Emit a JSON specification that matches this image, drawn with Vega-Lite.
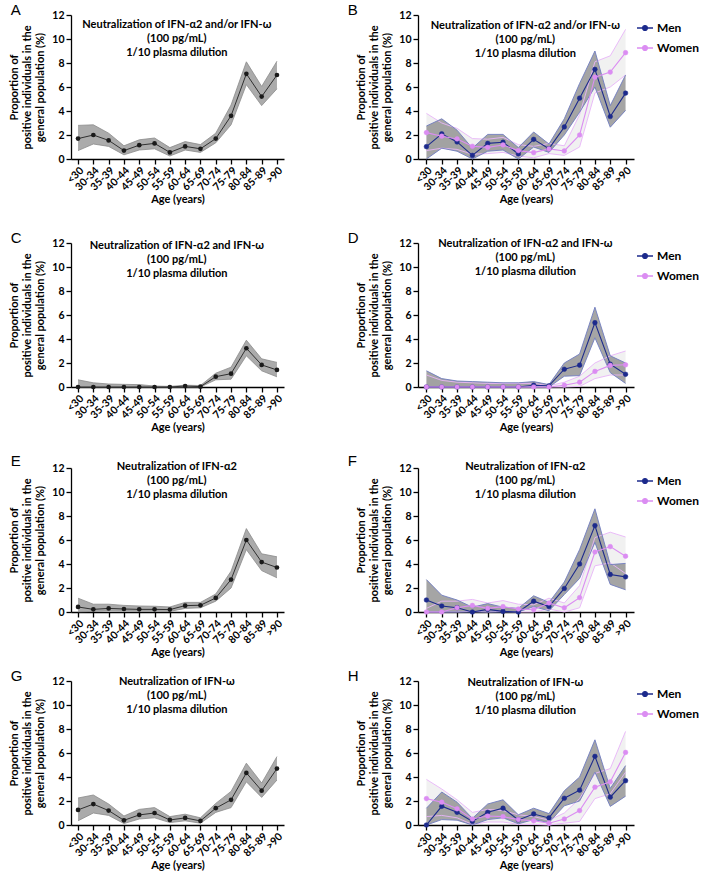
{
"$schema":"https://vega.github.io/schema/vega-lite/v6.json",
"padding":{"left":8,"top":3,"right":4,"bottom":0},
"datasets":{"d":[
{"pn":"A","sex":"All","age":"<30","p":1.7,"lo":0.7,"hi":2.8},
{"pn":"A","sex":"All","age":"30-34","p":2.0,"lo":1.25,"hi":2.85},
{"pn":"A","sex":"All","age":"35-39","p":1.55,"lo":1.05,"hi":2.15},
{"pn":"A","sex":"All","age":"40-44","p":0.7,"lo":0.35,"hi":1.1},
{"pn":"A","sex":"All","age":"45-49","p":1.15,"lo":0.75,"hi":1.6},
{"pn":"A","sex":"All","age":"50-54","p":1.3,"lo":0.85,"hi":1.75},
{"pn":"A","sex":"All","age":"55-59","p":0.55,"lo":0.25,"hi":0.95},
{"pn":"A","sex":"All","age":"60-64","p":1.05,"lo":0.75,"hi":1.45},
{"pn":"A","sex":"All","age":"65-69","p":0.85,"lo":0.55,"hi":1.2},
{"pn":"A","sex":"All","age":"70-74","p":1.7,"lo":1.35,"hi":2.15},
{"pn":"A","sex":"All","age":"75-79","p":3.6,"lo":2.85,"hi":4.5},
{"pn":"A","sex":"All","age":"80-84","p":7.1,"lo":6.2,"hi":8.1},
{"pn":"A","sex":"All","age":"85-89","p":5.2,"lo":4.45,"hi":6.05},
{"pn":"A","sex":"All","age":">90","p":7.0,"lo":5.85,"hi":8.15},
{"pn":"B","sex":"Men","age":"<30","p":1.03,"lo":0,"hi":2.75},
{"pn":"B","sex":"Men","age":"30-34","p":2.1,"lo":0.9,"hi":3.35},
{"pn":"B","sex":"Men","age":"35-39","p":1.42,"lo":0.65,"hi":2.4},
{"pn":"B","sex":"Men","age":"40-44","p":0.3,"lo":0,"hi":0.9},
{"pn":"B","sex":"Men","age":"45-49","p":1.3,"lo":0.65,"hi":2.05},
{"pn":"B","sex":"Men","age":"50-54","p":1.4,"lo":0.75,"hi":2.05},
{"pn":"B","sex":"Men","age":"55-59","p":0.42,"lo":0,"hi":0.95},
{"pn":"B","sex":"Men","age":"60-64","p":1.64,"lo":1.0,"hi":2.25},
{"pn":"B","sex":"Men","age":"65-69","p":0.86,"lo":0.55,"hi":1.25},
{"pn":"B","sex":"Men","age":"70-74","p":2.67,"lo":2.0,"hi":3.35},
{"pn":"B","sex":"Men","age":"75-79","p":5.07,"lo":3.9,"hi":6.3},
{"pn":"B","sex":"Men","age":"80-84","p":7.47,"lo":6.0,"hi":9.0},
{"pn":"B","sex":"Men","age":"85-89","p":3.54,"lo":2.65,"hi":4.45},
{"pn":"B","sex":"Men","age":">90","p":5.49,"lo":4.05,"hi":7.0},
{"pn":"B","sex":"Women","age":"<30","p":2.2,"lo":0.7,"hi":3.8},
{"pn":"B","sex":"Women","age":"30-34","p":1.9,"lo":0.9,"hi":3.0},
{"pn":"B","sex":"Women","age":"35-39","p":1.67,"lo":0.8,"hi":2.55},
{"pn":"B","sex":"Women","age":"40-44","p":1.06,"lo":0.4,"hi":1.7},
{"pn":"B","sex":"Women","age":"45-49","p":0.97,"lo":0.45,"hi":1.65},
{"pn":"B","sex":"Women","age":"50-54","p":1.17,"lo":0.55,"hi":1.8},
{"pn":"B","sex":"Women","age":"55-59","p":0.7,"lo":0.25,"hi":1.2},
{"pn":"B","sex":"Women","age":"60-64","p":0.53,"lo":0.1,"hi":1.05},
{"pn":"B","sex":"Women","age":"65-69","p":0.84,"lo":0.45,"hi":1.3},
{"pn":"B","sex":"Women","age":"70-74","p":0.67,"lo":0.3,"hi":1.1},
{"pn":"B","sex":"Women","age":"75-79","p":2.0,"lo":1.0,"hi":3.7},
{"pn":"B","sex":"Women","age":"80-84","p":6.82,"lo":5.5,"hi":8.1},
{"pn":"B","sex":"Women","age":"85-89","p":7.24,"lo":6.0,"hi":8.6},
{"pn":"B","sex":"Women","age":">90","p":8.86,"lo":7.0,"hi":10.8},
{"pn":"C","sex":"All","age":"<30","p":0,"lo":0,"hi":0.6},
{"pn":"C","sex":"All","age":"30-34","p":0,"lo":0,"hi":0.35},
{"pn":"C","sex":"All","age":"35-39","p":0,"lo":0,"hi":0.25},
{"pn":"C","sex":"All","age":"40-44","p":0,"lo":0,"hi":0.22},
{"pn":"C","sex":"All","age":"45-49","p":0,"lo":0,"hi":0.2},
{"pn":"C","sex":"All","age":"50-54","p":0,"lo":0,"hi":0.08},
{"pn":"C","sex":"All","age":"55-59","p":0,"lo":0,"hi":0.05},
{"pn":"C","sex":"All","age":"60-64","p":0.08,"lo":0,"hi":0.15},
{"pn":"C","sex":"All","age":"65-69","p":0.03,"lo":0,"hi":0.12},
{"pn":"C","sex":"All","age":"70-74","p":0.86,"lo":0.6,"hi":1.15},
{"pn":"C","sex":"All","age":"75-79","p":1.11,"lo":0.65,"hi":1.65},
{"pn":"C","sex":"All","age":"80-84","p":3.23,"lo":2.6,"hi":3.9},
{"pn":"C","sex":"All","age":"85-89","p":1.84,"lo":1.35,"hi":2.35},
{"pn":"C","sex":"All","age":">90","p":1.42,"lo":0.85,"hi":2.05},
{"pn":"D","sex":"Men","age":"<30","p":0,"lo":0,"hi":1.35},
{"pn":"D","sex":"Men","age":"30-34","p":0,"lo":0,"hi":0.7},
{"pn":"D","sex":"Men","age":"35-39","p":0,"lo":0,"hi":0.5},
{"pn":"D","sex":"Men","age":"40-44","p":0,"lo":0,"hi":0.45},
{"pn":"D","sex":"Men","age":"45-49","p":0,"lo":0,"hi":0.4},
{"pn":"D","sex":"Men","age":"50-54","p":0,"lo":0,"hi":0.35},
{"pn":"D","sex":"Men","age":"55-59","p":0,"lo":0,"hi":0.35},
{"pn":"D","sex":"Men","age":"60-64","p":0.15,"lo":0,"hi":0.45},
{"pn":"D","sex":"Men","age":"65-69","p":0.1,"lo":0,"hi":0.2},
{"pn":"D","sex":"Men","age":"70-74","p":1.48,"lo":0.9,"hi":2.0},
{"pn":"D","sex":"Men","age":"75-79","p":1.82,"lo":0.95,"hi":2.75},
{"pn":"D","sex":"Men","age":"80-84","p":5.36,"lo":4.1,"hi":6.65},
{"pn":"D","sex":"Men","age":"85-89","p":1.9,"lo":1.2,"hi":2.6},
{"pn":"D","sex":"Men","age":">90","p":1.06,"lo":0.3,"hi":2.0},
{"pn":"D","sex":"Women","age":"<30","p":0,"lo":0,"hi":1.0},
{"pn":"D","sex":"Women","age":"30-34","p":0,"lo":0,"hi":0.55},
{"pn":"D","sex":"Women","age":"35-39","p":0,"lo":0,"hi":0.4},
{"pn":"D","sex":"Women","age":"40-44","p":0,"lo":0,"hi":0.35},
{"pn":"D","sex":"Women","age":"45-49","p":0,"lo":0,"hi":0.3},
{"pn":"D","sex":"Women","age":"50-54","p":0,"lo":0,"hi":0.3},
{"pn":"D","sex":"Women","age":"55-59","p":0,"lo":0,"hi":0.3},
{"pn":"D","sex":"Women","age":"60-64","p":0,"lo":0,"hi":0.3},
{"pn":"D","sex":"Women","age":"65-69","p":0,"lo":0,"hi":0.1},
{"pn":"D","sex":"Women","age":"70-74","p":0.15,"lo":0,"hi":0.4},
{"pn":"D","sex":"Women","age":"75-79","p":0.4,"lo":0.05,"hi":0.9},
{"pn":"D","sex":"Women","age":"80-84","p":1.3,"lo":0.7,"hi":2.0},
{"pn":"D","sex":"Women","age":"85-89","p":1.8,"lo":1.0,"hi":2.6},
{"pn":"D","sex":"Women","age":">90","p":1.85,"lo":1.0,"hi":3.0},
{"pn":"E","sex":"All","age":"<30","p":0.42,"lo":0.02,"hi":1.15},
{"pn":"E","sex":"All","age":"30-34","p":0.22,"lo":0.05,"hi":0.65},
{"pn":"E","sex":"All","age":"35-39","p":0.3,"lo":0.1,"hi":0.65},
{"pn":"E","sex":"All","age":"40-44","p":0.25,"lo":0.08,"hi":0.55},
{"pn":"E","sex":"All","age":"45-49","p":0.22,"lo":0.07,"hi":0.5},
{"pn":"E","sex":"All","age":"50-54","p":0.22,"lo":0.07,"hi":0.48},
{"pn":"E","sex":"All","age":"55-59","p":0.2,"lo":0.05,"hi":0.42},
{"pn":"E","sex":"All","age":"60-64","p":0.53,"lo":0.3,"hi":0.8},
{"pn":"E","sex":"All","age":"65-69","p":0.56,"lo":0.35,"hi":0.8},
{"pn":"E","sex":"All","age":"70-74","p":1.17,"lo":0.9,"hi":1.5},
{"pn":"E","sex":"All","age":"75-79","p":2.7,"lo":2.0,"hi":3.4},
{"pn":"E","sex":"All","age":"80-84","p":6.0,"lo":5.2,"hi":6.95},
{"pn":"E","sex":"All","age":"85-89","p":4.16,"lo":3.45,"hi":4.85},
{"pn":"E","sex":"All","age":">90","p":3.71,"lo":2.85,"hi":4.6},
{"pn":"F","sex":"Men","age":"<30","p":1.0,"lo":0,"hi":2.7},
{"pn":"F","sex":"Men","age":"30-34","p":0.5,"lo":0,"hi":1.4},
{"pn":"F","sex":"Men","age":"35-39","p":0.36,"lo":0,"hi":1.0},
{"pn":"F","sex":"Men","age":"40-44","p":0,"lo":0,"hi":0.4},
{"pn":"F","sex":"Men","age":"45-49","p":0.22,"lo":0,"hi":0.7},
{"pn":"F","sex":"Men","age":"50-54","p":0.05,"lo":0,"hi":0.4},
{"pn":"F","sex":"Men","age":"55-59","p":0,"lo":0,"hi":0.3},
{"pn":"F","sex":"Men","age":"60-64","p":0.9,"lo":0.45,"hi":1.35},
{"pn":"F","sex":"Men","age":"65-69","p":0.45,"lo":0.1,"hi":0.8},
{"pn":"F","sex":"Men","age":"70-74","p":1.96,"lo":1.45,"hi":2.5},
{"pn":"F","sex":"Men","age":"75-79","p":4.0,"lo":2.8,"hi":5.2},
{"pn":"F","sex":"Men","age":"80-84","p":7.2,"lo":5.8,"hi":8.6},
{"pn":"F","sex":"Men","age":"85-89","p":3.13,"lo":2.3,"hi":3.95},
{"pn":"F","sex":"Men","age":">90","p":2.93,"lo":1.85,"hi":4.05},
{"pn":"F","sex":"Women","age":"<30","p":0,"lo":0,"hi":0.3},
{"pn":"F","sex":"Women","age":"30-34","p":0,"lo":0,"hi":0.9},
{"pn":"F","sex":"Women","age":"35-39","p":0.35,"lo":0,"hi":0.9},
{"pn":"F","sex":"Women","age":"40-44","p":0.55,"lo":0.05,"hi":1.05},
{"pn":"F","sex":"Women","age":"45-49","p":0.3,"lo":0,"hi":0.75},
{"pn":"F","sex":"Women","age":"50-54","p":0.45,"lo":0.05,"hi":0.95},
{"pn":"F","sex":"Women","age":"55-59","p":0.25,"lo":0,"hi":0.65},
{"pn":"F","sex":"Women","age":"60-64","p":0.2,"lo":0,"hi":0.6},
{"pn":"F","sex":"Women","age":"65-69","p":0.75,"lo":0.25,"hi":1.15},
{"pn":"F","sex":"Women","age":"70-74","p":0.35,"lo":0,"hi":0.75},
{"pn":"F","sex":"Women","age":"75-79","p":1.2,"lo":0.35,"hi":2.2},
{"pn":"F","sex":"Women","age":"80-84","p":5.0,"lo":3.85,"hi":6.2},
{"pn":"F","sex":"Women","age":"85-89","p":5.45,"lo":4.1,"hi":6.65},
{"pn":"F","sex":"Women","age":">90","p":4.65,"lo":3.2,"hi":6.25},
{"pn":"G","sex":"All","age":"<30","p":1.26,"lo":0.35,"hi":2.25},
{"pn":"G","sex":"All","age":"30-34","p":1.74,"lo":1.0,"hi":2.5},
{"pn":"G","sex":"All","age":"35-39","p":1.2,"lo":0.8,"hi":1.75},
{"pn":"G","sex":"All","age":"40-44","p":0.39,"lo":0.12,"hi":0.75},
{"pn":"G","sex":"All","age":"45-49","p":0.84,"lo":0.5,"hi":1.3},
{"pn":"G","sex":"All","age":"50-54","p":1.0,"lo":0.6,"hi":1.45},
{"pn":"G","sex":"All","age":"55-59","p":0.42,"lo":0.2,"hi":0.7},
{"pn":"G","sex":"All","age":"60-64","p":0.59,"lo":0.35,"hi":0.9},
{"pn":"G","sex":"All","age":"65-69","p":0.34,"lo":0.15,"hi":0.6},
{"pn":"G","sex":"All","age":"70-74","p":1.4,"lo":1.05,"hi":1.8},
{"pn":"G","sex":"All","age":"75-79","p":2.1,"lo":1.45,"hi":2.8},
{"pn":"G","sex":"All","age":"80-84","p":4.34,"lo":3.6,"hi":5.15},
{"pn":"G","sex":"All","age":"85-89","p":2.86,"lo":2.3,"hi":3.5},
{"pn":"G","sex":"All","age":">90","p":4.7,"lo":3.75,"hi":5.7},
{"pn":"H","sex":"Men","age":"<30","p":0,"lo":0,"hi":1.4},
{"pn":"H","sex":"Men","age":"30-34","p":1.56,"lo":0.45,"hi":2.75},
{"pn":"H","sex":"Men","age":"35-39","p":1.06,"lo":0.4,"hi":1.9},
{"pn":"H","sex":"Men","age":"40-44","p":0.3,"lo":0,"hi":0.55},
{"pn":"H","sex":"Men","age":"45-49","p":1.06,"lo":0.45,"hi":1.75},
{"pn":"H","sex":"Men","age":"50-54","p":1.4,"lo":0.6,"hi":2.1},
{"pn":"H","sex":"Men","age":"55-59","p":0.42,"lo":0.1,"hi":0.85},
{"pn":"H","sex":"Men","age":"60-64","p":0.92,"lo":0.45,"hi":1.4},
{"pn":"H","sex":"Men","age":"65-69","p":0.59,"lo":0.2,"hi":0.95},
{"pn":"H","sex":"Men","age":"70-74","p":2.23,"lo":1.6,"hi":2.85},
{"pn":"H","sex":"Men","age":"75-79","p":2.9,"lo":2.0,"hi":4.0},
{"pn":"H","sex":"Men","age":"80-84","p":5.72,"lo":4.4,"hi":7.1},
{"pn":"H","sex":"Men","age":"85-89","p":2.32,"lo":1.55,"hi":3.05},
{"pn":"H","sex":"Men","age":">90","p":3.69,"lo":2.4,"hi":4.95},
{"pn":"H","sex":"Women","age":"<30","p":2.2,"lo":0.7,"hi":3.8},
{"pn":"H","sex":"Women","age":"30-34","p":1.9,"lo":0.8,"hi":3.0},
{"pn":"H","sex":"Women","age":"35-39","p":1.35,"lo":0.6,"hi":2.1},
{"pn":"H","sex":"Women","age":"40-44","p":0.5,"lo":0.05,"hi":1.05},
{"pn":"H","sex":"Women","age":"45-49","p":0.75,"lo":0.25,"hi":1.3},
{"pn":"H","sex":"Women","age":"50-54","p":0.7,"lo":0.25,"hi":1.2},
{"pn":"H","sex":"Women","age":"55-59","p":0.45,"lo":0.05,"hi":0.85},
{"pn":"H","sex":"Women","age":"60-64","p":0.35,"lo":0.05,"hi":0.7},
{"pn":"H","sex":"Women","age":"65-69","p":0.15,"lo":0,"hi":0.4},
{"pn":"H","sex":"Women","age":"70-74","p":0.5,"lo":0.15,"hi":1.0},
{"pn":"H","sex":"Women","age":"75-79","p":1.2,"lo":0.3,"hi":2.2},
{"pn":"H","sex":"Women","age":"80-84","p":3.15,"lo":2.2,"hi":4.3},
{"pn":"H","sex":"Women","age":"85-89","p":3.6,"lo":2.6,"hi":4.7},
{"pn":"H","sex":"Women","age":">90","p":6.05,"lo":4.4,"hi":7.8}
]},
"data":{"name":"d"},
"spacing":25,
"resolve":{"scale":{"stroke":"independent","fill":"independent"},"legend":{"stroke":"independent","fill":"independent"}},
"vconcat":[
{"hconcat":[
{"width":213,"height":144,"title":{"text":"A"},"layer":[
{"transform":[{"filter":"datum.pn==='A'"}],"mark":{"type":"area","color":"#ababab","opacity":1},"encoding":{"x":{"field":"age","type":"ordinal","title":"Age (years)","scale":{"type":"point","padding":0.46,"domain":["<30","30-34","35-39","40-44","45-49","50-54","55-59","60-64","65-69","70-74","75-79","80-84","85-89",">90"]}},"y":{"field":"lo","type":"quantitative","scale":{"domain":[0,12],"nice":false},"title":["Proportion of","positive individuals in the","general population  (%)"]},"y2":{"field":"hi"}}},
{"transform":[{"filter":"datum.pn==='A'"},{"fold":["lo","hi"],"as":["bnd","bv"]}],"mark":{"type":"line","color":"#8a8a8a","strokeWidth":0.8},"encoding":{"x":{"field":"age","type":"ordinal","title":"Age (years)"},"y":{"field":"bv","type":"quantitative","title":["Proportion of","positive individuals in the","general population  (%)"]},"detail":{"field":"bnd","type":"nominal"}}},
{"transform":[{"filter":"datum.pn==='A'"}],"mark":{"type":"line","color":"#303030","strokeWidth":1},"encoding":{"x":{"field":"age","type":"ordinal","title":"Age (years)"},"y":{"field":"p","type":"quantitative","title":["Proportion of","positive individuals in the","general population  (%)"]}}},
{"transform":[{"filter":"datum.pn==='A'"}],"mark":{"type":"point","filled":true,"color":"#1a1a1a","size":22,"opacity":1},"encoding":{"x":{"field":"age","type":"ordinal","title":"Age (years)"},"y":{"field":"p","type":"quantitative","title":["Proportion of","positive individuals in the","general population  (%)"]}}},
{"data":{"values":[{}]},"mark":{"type":"text","text":["Neutralization of IFN-α2 and/or IFN-ω","(100 pg/mL)","1/10 plasma dilution"],"fontWeight":"bold","fontSize":11,"lineHeight":14,"baseline":"middle","color":"black","dx":7},"encoding":{"x":{"datum":"55-59","type":"ordinal","title":"Age (years)"},"y":{"datum":11.2,"type":"quantitative","title":["Proportion of","positive individuals in the","general population  (%)"]}}}
]},
{"width":216,"height":144,"title":{"text":"B","dx":-8},"layer":[
{"transform":[{"filter":"datum.pn==='B' && datum.sex==='Women'"}],"mark":{"type":"area","color":"#efefef","opacity":0.9},"encoding":{"x":{"field":"age","type":"ordinal","title":"Age (years)","scale":{"type":"point","padding":0.55,"domain":["<30","30-34","35-39","40-44","45-49","50-54","55-59","60-64","65-69","70-74","75-79","80-84","85-89",">90"]}},"y":{"field":"lo","type":"quantitative","scale":{"domain":[0,12],"nice":false},"title":["Proportion of","positive individuals in the","general population  (%)"]},"y2":{"field":"hi"}}},
{"transform":[{"filter":"datum.pn==='B' && datum.sex==='Men'"}],"mark":{"type":"area","color":"#8f8f8f","opacity":0.8},"encoding":{"x":{"field":"age","type":"ordinal","title":"Age (years)"},"y":{"field":"lo","type":"quantitative","title":["Proportion of","positive individuals in the","general population  (%)"]},"y2":{"field":"hi"}}},
{"transform":[{"filter":"datum.pn==='B' && datum.sex==='Women'"},{"fold":["lo","hi"],"as":["bnd","bv"]}],"mark":{"type":"line","color":"#e8b4f8","strokeWidth":0.9},"encoding":{"x":{"field":"age","type":"ordinal","title":"Age (years)"},"y":{"field":"bv","type":"quantitative","title":["Proportion of","positive individuals in the","general population  (%)"]},"detail":{"field":"bnd","type":"nominal"}}},
{"transform":[{"filter":"datum.pn==='B' && datum.sex==='Men'"},{"fold":["lo","hi"],"as":["bnd","bv"]}],"mark":{"type":"line","color":"#6f7cc0","strokeWidth":0.9},"encoding":{"x":{"field":"age","type":"ordinal","title":"Age (years)"},"y":{"field":"bv","type":"quantitative","title":["Proportion of","positive individuals in the","general population  (%)"]},"detail":{"field":"bnd","type":"nominal"}}},
{"transform":[{"filter":"datum.pn==='B'"}],"mark":{"type":"line","strokeWidth":1.1},"encoding":{"x":{"field":"age","type":"ordinal","title":"Age (years)"},"y":{"field":"p","type":"quantitative","title":["Proportion of","positive individuals in the","general population  (%)"]},"stroke":{"field":"sex","type":"nominal","scale":{"domain":["Women","Men"],"range":["#db8df2","#1c2a8c"]},"legend":{"title":null,"orient":"right","offset":-2,"padding":4,"symbolType":"M-1,0L1,0M-0.3,0A0.3,0.3,0,1,1,0.3,0A0.3,0.3,0,1,1,-0.3,0Z","symbolSize":256,"symbolStrokeWidth":1.3,"labelFontSize":12,"labelFontWeight":"bold","labelColor":"black","rowPadding":5,"labelOffset":3,"values":["Men","Women"]}}}},
{"transform":[{"filter":"datum.pn==='B'"}],"mark":{"type":"point","filled":true,"size":22,"opacity":1,"strokeWidth":0.5},"encoding":{"x":{"field":"age","type":"ordinal","title":"Age (years)"},"y":{"field":"p","type":"quantitative","title":["Proportion of","positive individuals in the","general population  (%)"]},"stroke":{"field":"sex","type":"nominal","scale":{"domain":["Women","Men"],"range":["#db8df2","#1c2a8c"]},"legend":{"title":null,"orient":"right","offset":-2,"padding":4,"symbolType":"M-1,0L1,0M-0.3,0A0.3,0.3,0,1,1,0.3,0A0.3,0.3,0,1,1,-0.3,0Z","symbolSize":256,"symbolStrokeWidth":1.3,"labelFontSize":12,"labelFontWeight":"bold","labelColor":"black","rowPadding":5,"labelOffset":3,"values":["Men","Women"]}},"fill":{"field":"sex","type":"nominal","scale":{"domain":["Women","Men"],"range":["#db8df2","#1c2a8c"]},"legend":{"title":null,"orient":"right","offset":-2,"padding":4,"symbolType":"M-1,0L1,0M-0.3,0A0.3,0.3,0,1,1,0.3,0A0.3,0.3,0,1,1,-0.3,0Z","symbolSize":256,"symbolStrokeWidth":1.3,"labelFontSize":12,"labelFontWeight":"bold","labelColor":"black","rowPadding":5,"labelOffset":3,"values":["Men","Women"]}}}},
{"data":{"values":[{}]},"mark":{"type":"text","text":["Neutralization of IFN-α2 and/or IFN-ω","(100 pg/mL)","1/10 plasma dilution"],"fontWeight":"bold","fontSize":11,"lineHeight":14,"baseline":"middle","color":"black","dx":7},"encoding":{"x":{"datum":"55-59","type":"ordinal","title":"Age (years)"},"y":{"datum":11.1,"type":"quantitative","title":["Proportion of","positive individuals in the","general population  (%)"]}}}
]}
],"spacing":62,"resolve":{"scale":{"stroke":"independent","fill":"independent"},"legend":{"stroke":"independent","fill":"independent"}}},
{"spacing":20,"resolve":{"scale":{"stroke":"independent","fill":"independent"},"legend":{"stroke":"independent","fill":"independent"}},"vconcat":[
{"hconcat":[
{"width":213,"height":144,"title":{"text":"C"},"layer":[
{"transform":[{"filter":"datum.pn==='C'"}],"mark":{"type":"area","color":"#ababab","opacity":1},"encoding":{"x":{"field":"age","type":"ordinal","title":"Age (years)","scale":{"type":"point","padding":0.46,"domain":["<30","30-34","35-39","40-44","45-49","50-54","55-59","60-64","65-69","70-74","75-79","80-84","85-89",">90"]}},"y":{"field":"lo","type":"quantitative","scale":{"domain":[0,12],"nice":false},"title":["Proportion of","positive individuals in the","general population  (%)"]},"y2":{"field":"hi"}}},
{"transform":[{"filter":"datum.pn==='C'"},{"fold":["lo","hi"],"as":["bnd","bv"]}],"mark":{"type":"line","color":"#8a8a8a","strokeWidth":0.8},"encoding":{"x":{"field":"age","type":"ordinal","title":"Age (years)"},"y":{"field":"bv","type":"quantitative","title":["Proportion of","positive individuals in the","general population  (%)"]},"detail":{"field":"bnd","type":"nominal"}}},
{"transform":[{"filter":"datum.pn==='C'"}],"mark":{"type":"line","color":"#303030","strokeWidth":1},"encoding":{"x":{"field":"age","type":"ordinal","title":"Age (years)"},"y":{"field":"p","type":"quantitative","title":["Proportion of","positive individuals in the","general population  (%)"]}}},
{"transform":[{"filter":"datum.pn==='C'"}],"mark":{"type":"point","filled":true,"color":"#1a1a1a","size":22,"opacity":1},"encoding":{"x":{"field":"age","type":"ordinal","title":"Age (years)"},"y":{"field":"p","type":"quantitative","title":["Proportion of","positive individuals in the","general population  (%)"]}}},
{"data":{"values":[{}]},"mark":{"type":"text","text":["Neutralization of IFN-α2 and IFN-ω","(100 pg/mL)","1/10 plasma dilution"],"fontWeight":"bold","fontSize":11,"lineHeight":14,"baseline":"middle","color":"black","dx":7},"encoding":{"x":{"datum":"55-59","type":"ordinal","title":"Age (years)"},"y":{"datum":11.75,"type":"quantitative","title":["Proportion of","positive individuals in the","general population  (%)"]}}}
]},
{"width":216,"height":144,"title":{"text":"D","dx":-8},"layer":[
{"transform":[{"filter":"datum.pn==='D' && datum.sex==='Women'"}],"mark":{"type":"area","color":"#efefef","opacity":0.9},"encoding":{"x":{"field":"age","type":"ordinal","title":"Age (years)","scale":{"type":"point","padding":0.55,"domain":["<30","30-34","35-39","40-44","45-49","50-54","55-59","60-64","65-69","70-74","75-79","80-84","85-89",">90"]}},"y":{"field":"lo","type":"quantitative","scale":{"domain":[0,12],"nice":false},"title":["Proportion of","positive individuals in the","general population  (%)"]},"y2":{"field":"hi"}}},
{"transform":[{"filter":"datum.pn==='D' && datum.sex==='Men'"}],"mark":{"type":"area","color":"#8f8f8f","opacity":0.8},"encoding":{"x":{"field":"age","type":"ordinal","title":"Age (years)"},"y":{"field":"lo","type":"quantitative","title":["Proportion of","positive individuals in the","general population  (%)"]},"y2":{"field":"hi"}}},
{"transform":[{"filter":"datum.pn==='D' && datum.sex==='Women'"},{"fold":["lo","hi"],"as":["bnd","bv"]}],"mark":{"type":"line","color":"#e8b4f8","strokeWidth":0.9},"encoding":{"x":{"field":"age","type":"ordinal","title":"Age (years)"},"y":{"field":"bv","type":"quantitative","title":["Proportion of","positive individuals in the","general population  (%)"]},"detail":{"field":"bnd","type":"nominal"}}},
{"transform":[{"filter":"datum.pn==='D' && datum.sex==='Men'"},{"fold":["lo","hi"],"as":["bnd","bv"]}],"mark":{"type":"line","color":"#6f7cc0","strokeWidth":0.9},"encoding":{"x":{"field":"age","type":"ordinal","title":"Age (years)"},"y":{"field":"bv","type":"quantitative","title":["Proportion of","positive individuals in the","general population  (%)"]},"detail":{"field":"bnd","type":"nominal"}}},
{"transform":[{"filter":"datum.pn==='D'"}],"mark":{"type":"line","strokeWidth":1.1},"encoding":{"x":{"field":"age","type":"ordinal","title":"Age (years)"},"y":{"field":"p","type":"quantitative","title":["Proportion of","positive individuals in the","general population  (%)"]},"stroke":{"field":"sex","type":"nominal","scale":{"domain":["Women","Men"],"range":["#db8df2","#1c2a8c"]},"legend":{"title":null,"orient":"right","offset":-2,"padding":4,"symbolType":"M-1,0L1,0M-0.3,0A0.3,0.3,0,1,1,0.3,0A0.3,0.3,0,1,1,-0.3,0Z","symbolSize":256,"symbolStrokeWidth":1.3,"labelFontSize":12,"labelFontWeight":"bold","labelColor":"black","rowPadding":5,"labelOffset":3,"values":["Men","Women"]}}}},
{"transform":[{"filter":"datum.pn==='D'"}],"mark":{"type":"point","filled":true,"size":22,"opacity":1,"strokeWidth":0.5},"encoding":{"x":{"field":"age","type":"ordinal","title":"Age (years)"},"y":{"field":"p","type":"quantitative","title":["Proportion of","positive individuals in the","general population  (%)"]},"stroke":{"field":"sex","type":"nominal","scale":{"domain":["Women","Men"],"range":["#db8df2","#1c2a8c"]},"legend":{"title":null,"orient":"right","offset":-2,"padding":4,"symbolType":"M-1,0L1,0M-0.3,0A0.3,0.3,0,1,1,0.3,0A0.3,0.3,0,1,1,-0.3,0Z","symbolSize":256,"symbolStrokeWidth":1.3,"labelFontSize":12,"labelFontWeight":"bold","labelColor":"black","rowPadding":5,"labelOffset":3,"values":["Men","Women"]}},"fill":{"field":"sex","type":"nominal","scale":{"domain":["Women","Men"],"range":["#db8df2","#1c2a8c"]},"legend":{"title":null,"orient":"right","offset":-2,"padding":4,"symbolType":"M-1,0L1,0M-0.3,0A0.3,0.3,0,1,1,0.3,0A0.3,0.3,0,1,1,-0.3,0Z","symbolSize":256,"symbolStrokeWidth":1.3,"labelFontSize":12,"labelFontWeight":"bold","labelColor":"black","rowPadding":5,"labelOffset":3,"values":["Men","Women"]}}}},
{"data":{"values":[{}]},"mark":{"type":"text","text":["Neutralization of IFN-α2 and IFN-ω","(100 pg/mL)","1/10 plasma dilution"],"fontWeight":"bold","fontSize":11,"lineHeight":14,"baseline":"middle","color":"black","dx":7},"encoding":{"x":{"datum":"55-59","type":"ordinal","title":"Age (years)"},"y":{"datum":11.95,"type":"quantitative","title":["Proportion of","positive individuals in the","general population  (%)"]}}}
]}
],"spacing":62,"resolve":{"scale":{"stroke":"independent","fill":"independent"},"legend":{"stroke":"independent","fill":"independent"}}},
{"spacing":10,"resolve":{"scale":{"stroke":"independent","fill":"independent"},"legend":{"stroke":"independent","fill":"independent"}},"vconcat":[
{"hconcat":[
{"width":213,"height":144,"title":{"text":"E"},"layer":[
{"transform":[{"filter":"datum.pn==='E'"}],"mark":{"type":"area","color":"#ababab","opacity":1},"encoding":{"x":{"field":"age","type":"ordinal","title":"Age (years)","scale":{"type":"point","padding":0.46,"domain":["<30","30-34","35-39","40-44","45-49","50-54","55-59","60-64","65-69","70-74","75-79","80-84","85-89",">90"]}},"y":{"field":"lo","type":"quantitative","scale":{"domain":[0,12],"nice":false},"title":["Proportion of","positive individuals in the","general population  (%)"]},"y2":{"field":"hi"}}},
{"transform":[{"filter":"datum.pn==='E'"},{"fold":["lo","hi"],"as":["bnd","bv"]}],"mark":{"type":"line","color":"#8a8a8a","strokeWidth":0.8},"encoding":{"x":{"field":"age","type":"ordinal","title":"Age (years)"},"y":{"field":"bv","type":"quantitative","title":["Proportion of","positive individuals in the","general population  (%)"]},"detail":{"field":"bnd","type":"nominal"}}},
{"transform":[{"filter":"datum.pn==='E'"}],"mark":{"type":"line","color":"#303030","strokeWidth":1},"encoding":{"x":{"field":"age","type":"ordinal","title":"Age (years)"},"y":{"field":"p","type":"quantitative","title":["Proportion of","positive individuals in the","general population  (%)"]}}},
{"transform":[{"filter":"datum.pn==='E'"}],"mark":{"type":"point","filled":true,"color":"#1a1a1a","size":22,"opacity":1},"encoding":{"x":{"field":"age","type":"ordinal","title":"Age (years)"},"y":{"field":"p","type":"quantitative","title":["Proportion of","positive individuals in the","general population  (%)"]}}},
{"data":{"values":[{}]},"mark":{"type":"text","text":["Neutralization of IFN-α2","(100 pg/mL)","1/10 plasma dilution"],"fontWeight":"bold","fontSize":11,"lineHeight":14,"baseline":"middle","color":"black","dx":7},"encoding":{"x":{"datum":"55-59","type":"ordinal","title":"Age (years)"},"y":{"datum":12.1,"type":"quantitative","title":["Proportion of","positive individuals in the","general population  (%)"]}}}
]},
{"width":216,"height":144,"title":{"text":"F","dx":-8},"layer":[
{"transform":[{"filter":"datum.pn==='F' && datum.sex==='Women'"}],"mark":{"type":"area","color":"#efefef","opacity":0.9},"encoding":{"x":{"field":"age","type":"ordinal","title":"Age (years)","scale":{"type":"point","padding":0.55,"domain":["<30","30-34","35-39","40-44","45-49","50-54","55-59","60-64","65-69","70-74","75-79","80-84","85-89",">90"]}},"y":{"field":"lo","type":"quantitative","scale":{"domain":[0,12],"nice":false},"title":["Proportion of","positive individuals in the","general population  (%)"]},"y2":{"field":"hi"}}},
{"transform":[{"filter":"datum.pn==='F' && datum.sex==='Men'"}],"mark":{"type":"area","color":"#8f8f8f","opacity":0.8},"encoding":{"x":{"field":"age","type":"ordinal","title":"Age (years)"},"y":{"field":"lo","type":"quantitative","title":["Proportion of","positive individuals in the","general population  (%)"]},"y2":{"field":"hi"}}},
{"transform":[{"filter":"datum.pn==='F' && datum.sex==='Women'"},{"fold":["lo","hi"],"as":["bnd","bv"]}],"mark":{"type":"line","color":"#e8b4f8","strokeWidth":0.9},"encoding":{"x":{"field":"age","type":"ordinal","title":"Age (years)"},"y":{"field":"bv","type":"quantitative","title":["Proportion of","positive individuals in the","general population  (%)"]},"detail":{"field":"bnd","type":"nominal"}}},
{"transform":[{"filter":"datum.pn==='F' && datum.sex==='Men'"},{"fold":["lo","hi"],"as":["bnd","bv"]}],"mark":{"type":"line","color":"#6f7cc0","strokeWidth":0.9},"encoding":{"x":{"field":"age","type":"ordinal","title":"Age (years)"},"y":{"field":"bv","type":"quantitative","title":["Proportion of","positive individuals in the","general population  (%)"]},"detail":{"field":"bnd","type":"nominal"}}},
{"transform":[{"filter":"datum.pn==='F'"}],"mark":{"type":"line","strokeWidth":1.1},"encoding":{"x":{"field":"age","type":"ordinal","title":"Age (years)"},"y":{"field":"p","type":"quantitative","title":["Proportion of","positive individuals in the","general population  (%)"]},"stroke":{"field":"sex","type":"nominal","scale":{"domain":["Women","Men"],"range":["#db8df2","#1c2a8c"]},"legend":{"title":null,"orient":"right","offset":-2,"padding":4,"symbolType":"M-1,0L1,0M-0.3,0A0.3,0.3,0,1,1,0.3,0A0.3,0.3,0,1,1,-0.3,0Z","symbolSize":256,"symbolStrokeWidth":1.3,"labelFontSize":12,"labelFontWeight":"bold","labelColor":"black","rowPadding":5,"labelOffset":3,"values":["Men","Women"]}}}},
{"transform":[{"filter":"datum.pn==='F'"}],"mark":{"type":"point","filled":true,"size":22,"opacity":1,"strokeWidth":0.5},"encoding":{"x":{"field":"age","type":"ordinal","title":"Age (years)"},"y":{"field":"p","type":"quantitative","title":["Proportion of","positive individuals in the","general population  (%)"]},"stroke":{"field":"sex","type":"nominal","scale":{"domain":["Women","Men"],"range":["#db8df2","#1c2a8c"]},"legend":{"title":null,"orient":"right","offset":-2,"padding":4,"symbolType":"M-1,0L1,0M-0.3,0A0.3,0.3,0,1,1,0.3,0A0.3,0.3,0,1,1,-0.3,0Z","symbolSize":256,"symbolStrokeWidth":1.3,"labelFontSize":12,"labelFontWeight":"bold","labelColor":"black","rowPadding":5,"labelOffset":3,"values":["Men","Women"]}},"fill":{"field":"sex","type":"nominal","scale":{"domain":["Women","Men"],"range":["#db8df2","#1c2a8c"]},"legend":{"title":null,"orient":"right","offset":-2,"padding":4,"symbolType":"M-1,0L1,0M-0.3,0A0.3,0.3,0,1,1,0.3,0A0.3,0.3,0,1,1,-0.3,0Z","symbolSize":256,"symbolStrokeWidth":1.3,"labelFontSize":12,"labelFontWeight":"bold","labelColor":"black","rowPadding":5,"labelOffset":3,"values":["Men","Women"]}}}},
{"data":{"values":[{}]},"mark":{"type":"text","text":["Neutralization of IFN-α2","(100 pg/mL)","1/10 plasma dilution"],"fontWeight":"bold","fontSize":11,"lineHeight":14,"baseline":"middle","color":"black","dx":7},"encoding":{"x":{"datum":"55-59","type":"ordinal","title":"Age (years)"},"y":{"datum":12.1,"type":"quantitative","title":["Proportion of","positive individuals in the","general population  (%)"]}}}
]}
],"spacing":62,"resolve":{"scale":{"stroke":"independent","fill":"independent"},"legend":{"stroke":"independent","fill":"independent"}}},
{"hconcat":[
{"width":213,"height":144,"title":{"text":"G"},"layer":[
{"transform":[{"filter":"datum.pn==='G'"}],"mark":{"type":"area","color":"#ababab","opacity":1},"encoding":{"x":{"field":"age","type":"ordinal","title":"Age (years)","scale":{"type":"point","padding":0.46,"domain":["<30","30-34","35-39","40-44","45-49","50-54","55-59","60-64","65-69","70-74","75-79","80-84","85-89",">90"]}},"y":{"field":"lo","type":"quantitative","scale":{"domain":[0,12],"nice":false},"title":["Proportion of","positive individuals in the","general population  (%)"]},"y2":{"field":"hi"}}},
{"transform":[{"filter":"datum.pn==='G'"},{"fold":["lo","hi"],"as":["bnd","bv"]}],"mark":{"type":"line","color":"#8a8a8a","strokeWidth":0.8},"encoding":{"x":{"field":"age","type":"ordinal","title":"Age (years)"},"y":{"field":"bv","type":"quantitative","title":["Proportion of","positive individuals in the","general population  (%)"]},"detail":{"field":"bnd","type":"nominal"}}},
{"transform":[{"filter":"datum.pn==='G'"}],"mark":{"type":"line","color":"#303030","strokeWidth":1},"encoding":{"x":{"field":"age","type":"ordinal","title":"Age (years)"},"y":{"field":"p","type":"quantitative","title":["Proportion of","positive individuals in the","general population  (%)"]}}},
{"transform":[{"filter":"datum.pn==='G'"}],"mark":{"type":"point","filled":true,"color":"#1a1a1a","size":22,"opacity":1},"encoding":{"x":{"field":"age","type":"ordinal","title":"Age (years)"},"y":{"field":"p","type":"quantitative","title":["Proportion of","positive individuals in the","general population  (%)"]}}},
{"data":{"values":[{}]},"mark":{"type":"text","text":["Neutralization of IFN-ω","(100 pg/mL)","1/10 plasma dilution"],"fontWeight":"bold","fontSize":11,"lineHeight":14,"baseline":"middle","color":"black","dx":7},"encoding":{"x":{"datum":"55-59","type":"ordinal","title":"Age (years)"},"y":{"datum":11.95,"type":"quantitative","title":["Proportion of","positive individuals in the","general population  (%)"]}}}
]},
{"width":216,"height":144,"title":{"text":"H","dx":-8},"layer":[
{"transform":[{"filter":"datum.pn==='H' && datum.sex==='Women'"}],"mark":{"type":"area","color":"#efefef","opacity":0.9},"encoding":{"x":{"field":"age","type":"ordinal","title":"Age (years)","scale":{"type":"point","padding":0.55,"domain":["<30","30-34","35-39","40-44","45-49","50-54","55-59","60-64","65-69","70-74","75-79","80-84","85-89",">90"]}},"y":{"field":"lo","type":"quantitative","scale":{"domain":[0,12],"nice":false},"title":["Proportion of","positive individuals in the","general population  (%)"]},"y2":{"field":"hi"}}},
{"transform":[{"filter":"datum.pn==='H' && datum.sex==='Men'"}],"mark":{"type":"area","color":"#8f8f8f","opacity":0.8},"encoding":{"x":{"field":"age","type":"ordinal","title":"Age (years)"},"y":{"field":"lo","type":"quantitative","title":["Proportion of","positive individuals in the","general population  (%)"]},"y2":{"field":"hi"}}},
{"transform":[{"filter":"datum.pn==='H' && datum.sex==='Women'"},{"fold":["lo","hi"],"as":["bnd","bv"]}],"mark":{"type":"line","color":"#e8b4f8","strokeWidth":0.9},"encoding":{"x":{"field":"age","type":"ordinal","title":"Age (years)"},"y":{"field":"bv","type":"quantitative","title":["Proportion of","positive individuals in the","general population  (%)"]},"detail":{"field":"bnd","type":"nominal"}}},
{"transform":[{"filter":"datum.pn==='H' && datum.sex==='Men'"},{"fold":["lo","hi"],"as":["bnd","bv"]}],"mark":{"type":"line","color":"#6f7cc0","strokeWidth":0.9},"encoding":{"x":{"field":"age","type":"ordinal","title":"Age (years)"},"y":{"field":"bv","type":"quantitative","title":["Proportion of","positive individuals in the","general population  (%)"]},"detail":{"field":"bnd","type":"nominal"}}},
{"transform":[{"filter":"datum.pn==='H'"}],"mark":{"type":"line","strokeWidth":1.1},"encoding":{"x":{"field":"age","type":"ordinal","title":"Age (years)"},"y":{"field":"p","type":"quantitative","title":["Proportion of","positive individuals in the","general population  (%)"]},"stroke":{"field":"sex","type":"nominal","scale":{"domain":["Women","Men"],"range":["#db8df2","#1c2a8c"]},"legend":{"title":null,"orient":"right","offset":-2,"padding":4,"symbolType":"M-1,0L1,0M-0.3,0A0.3,0.3,0,1,1,0.3,0A0.3,0.3,0,1,1,-0.3,0Z","symbolSize":256,"symbolStrokeWidth":1.3,"labelFontSize":12,"labelFontWeight":"bold","labelColor":"black","rowPadding":5,"labelOffset":3,"values":["Men","Women"]}}}},
{"transform":[{"filter":"datum.pn==='H'"}],"mark":{"type":"point","filled":true,"size":22,"opacity":1,"strokeWidth":0.5},"encoding":{"x":{"field":"age","type":"ordinal","title":"Age (years)"},"y":{"field":"p","type":"quantitative","title":["Proportion of","positive individuals in the","general population  (%)"]},"stroke":{"field":"sex","type":"nominal","scale":{"domain":["Women","Men"],"range":["#db8df2","#1c2a8c"]},"legend":{"title":null,"orient":"right","offset":-2,"padding":4,"symbolType":"M-1,0L1,0M-0.3,0A0.3,0.3,0,1,1,0.3,0A0.3,0.3,0,1,1,-0.3,0Z","symbolSize":256,"symbolStrokeWidth":1.3,"labelFontSize":12,"labelFontWeight":"bold","labelColor":"black","rowPadding":5,"labelOffset":3,"values":["Men","Women"]}},"fill":{"field":"sex","type":"nominal","scale":{"domain":["Women","Men"],"range":["#db8df2","#1c2a8c"]},"legend":{"title":null,"orient":"right","offset":-2,"padding":4,"symbolType":"M-1,0L1,0M-0.3,0A0.3,0.3,0,1,1,0.3,0A0.3,0.3,0,1,1,-0.3,0Z","symbolSize":256,"symbolStrokeWidth":1.3,"labelFontSize":12,"labelFontWeight":"bold","labelColor":"black","rowPadding":5,"labelOffset":3,"values":["Men","Women"]}}}},
{"data":{"values":[{}]},"mark":{"type":"text","text":["Neutralization of IFN-ω","(100 pg/mL)","1/10 plasma dilution"],"fontWeight":"bold","fontSize":11,"lineHeight":14,"baseline":"middle","color":"black","dx":7},"encoding":{"x":{"datum":"55-59","type":"ordinal","title":"Age (years)"},"y":{"datum":11.85,"type":"quantitative","title":["Proportion of","positive individuals in the","general population  (%)"]}}}
]}
],"spacing":62,"resolve":{"scale":{"stroke":"independent","fill":"independent"},"legend":{"stroke":"independent","fill":"independent"}}}
]}
]}
],
"config":{
"font":"Lato",
"view":{"stroke":null},
"axis":{"domainColor":"black","domainWidth":1.3,"tickColor":"black","tickWidth":1.3,"tickSize":5,"labelColor":"black","labelFontWeight":"bold","labelFontSize":10.5,"titleColor":"black","titleFontWeight":"bold","titleFontSize":11,"grid":false,"labelFont":"Lato","titleFont":"Lato"},
"axisX":{"labelAngle":-45,"labelPadding":1,"titlePadding":1},
"axisY":{"tickCount":6,"titleLineHeight":13,"titlePadding":6,"labelPadding":2},
"title":{"anchor":"start","frame":"bounds","fontSize":15,"fontWeight":"normal","font":"Liberation Sans","color":"black","offset":-8,"dx":2}
}
}
